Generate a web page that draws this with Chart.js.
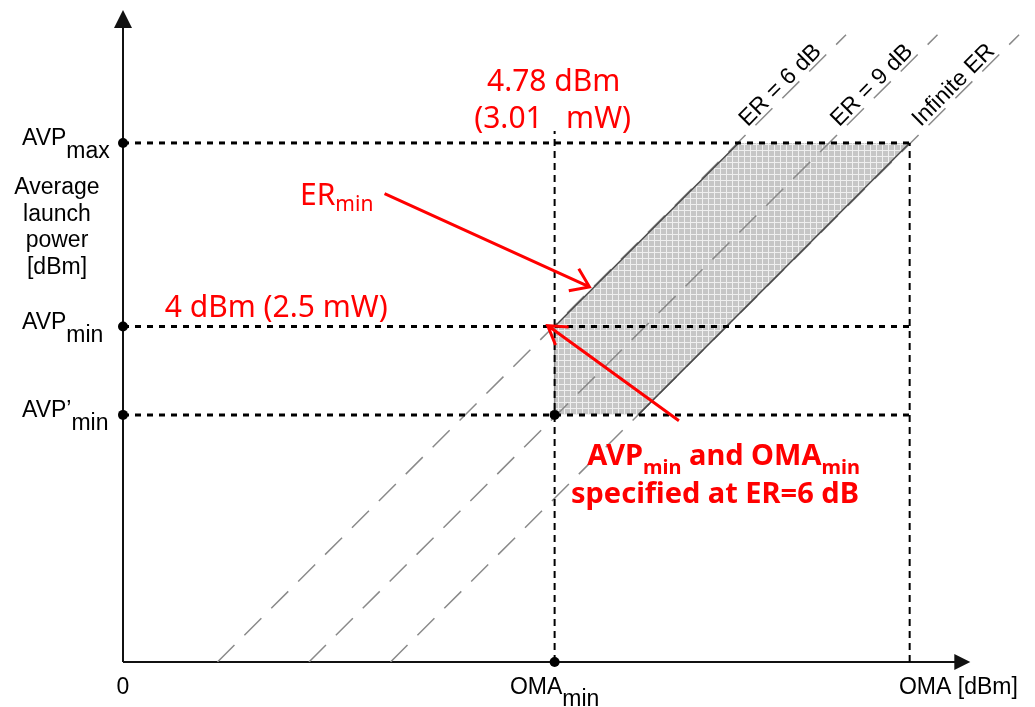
<!DOCTYPE html>
<html>
<head>
<meta charset="utf-8">
<script src="https://cdn.jsdelivr.net/npm/chart.js@4.4.0/dist/chart.umd.min.js"></script>
<style>
  html, body { margin: 0; padding: 0; background: #fff; }
  canvas { display: block; }
</style>
</head>
<body>
<canvas id="myChart" width="1035" height="707"></canvas>
<script>
// levels (arbitrary units, origin at the axes corner)
var omaMin = 43.4, omaMax = 79.1;
var avpMax = 52.3, avpMin = 33.8, avpMinP = 24.9;

// ER lines: x where each one meets the OMA axis, and x at its upper end
var erNames = ['ER = 6 dB', 'ER = 9 dB', 'Infinite ER'];
var erLowX = [9.5, 18.7, 26.9];
var erTopX = [72.7, 81.9, 90.1];
var erTopY = 63.2;

// shaded region corners
var regionX = [43.4, 61.9, 79.1, 51.8, 43.4, 43.4];
var regionY = [33.8, 52.3, 52.3, 24.9, 24.9, 33.8];

// marked points
var dotX = [0, 0, 0, 43.4, 43.4];
var dotY = [52.3, 33.8, 24.9, 24.9, 0];

// tick labels
var xTickValues = [0, 43.4, 84.0];
var xTickLabels = [['0'], ['OMA', 'min'], ['OMA [dBm]']];
var yTickValues = [52.3, 33.8, 24.9];
var yTickLabels = [['AVP', 'max'], ['AVP', 'min'], ['AVP\u2019', 'min']];
var yTitle = ['Average', 'launch', 'power', '[dBm]'];

function pts(xs, ys) {
    return xs.map(function (x, i) { return {x: x, y: ys[i]}; });
}

function makePattern() {
    var c = document.createElement('canvas');
    c.width = 6; c.height = 6;
    var g = c.getContext('2d');
    g.fillStyle = '#c6c6c6';
    g.fillRect(0, 0, 6, 6);
    g.fillStyle = '#efefef';
    g.fillRect(0, 0, 6, 1);
    g.fillRect(0, 0, 1, 6);
    return g.createPattern(c, 'repeat');
}

var datasets = [];

datasets.push({
    data: pts(regionX, regionY),
    showLine: true, fill: 'shape', backgroundColor: makePattern(),
    borderWidth: 0, pointRadius: 0, order: 10
});

erLowX.forEach(function (x0, i) {
    datasets.push({
        data: [{x: x0, y: 0}, {x: erTopX[i], y: erTopY}],
        showLine: true, borderColor: '#8a8a8a', borderWidth: 1.5,
        borderDash: [24, 14], pointRadius: 0, order: 8
    });
});

// solid edges of the region
[[[43.4, 61.9], [33.8, 52.3]], [[51.8, 79.1], [24.9, 52.3]], [[43.4, 43.4], [24.9, 33.8]]].forEach(function (e, i) {
    datasets.push({
        data: pts(e[0], e[1]),
        showLine: true, borderColor: i == 2 ? '#8a8a8a' : '#4a4a4a', borderWidth: 1.5,
        pointRadius: 0, order: 7
    });
});

// dotted guide lines
[avpMax, avpMin, avpMinP].forEach(function (y) {
    datasets.push({
        data: [{x: 0, y: y}, {x: omaMax, y: y}],
        showLine: true, borderColor: '#000', borderWidth: 3,
        borderDash: [6, 6], pointRadius: 0, order: 5, clip: false
    });
});
[[omaMin, 53.5], [omaMax, avpMax]].forEach(function (v) {
    datasets.push({
        data: [{x: v[0], y: 0}, {x: v[0], y: v[1]}],
        showLine: true, borderColor: '#000', borderWidth: 2,
        borderDash: [7, 5], pointRadius: 0, order: 5, clip: false
    });
});

datasets.push({
    data: pts(dotX, dotY),
    pointRadius: 5, pointBackgroundColor: '#000', pointBorderWidth: 0,
    order: 1, clip: false
});

function drawParts(ctx, parts, x, y, align) {
    var w = 0;
    parts.forEach(function (p) { ctx.font = p.font; w += ctx.measureText(p.t).width; });
    var cx = align == 'center' ? x - w / 2 : align == 'right' ? x - w : x;
    ctx.textAlign = 'left';
    ctx.textBaseline = 'alphabetic';
    parts.forEach(function (p) {
        ctx.font = p.font;
        ctx.fillText(p.t, cx, y + (p.dy || 0));
        cx += ctx.measureText(p.t).width;
    });
}

function arrow(ctx, x1, y1, x2, y2, spread) {
    var a = Math.atan2(y1 - y2, x1 - x2), len = 21;
    ctx.beginPath();
    ctx.moveTo(x1, y1); ctx.lineTo(x2, y2);
    ctx.moveTo(x2 + len * Math.cos(a + spread), y2 + len * Math.sin(a + spread));
    ctx.lineTo(x2, y2);
    ctx.lineTo(x2 + len * Math.cos(a - spread), y2 + len * Math.sin(a - spread));
    ctx.stroke();
}

var blackFont = '23px "Liberation Sans", Arial, sans-serif';
var redFont = '30px "Noto Sans", sans-serif';
var subFont = '21px "Noto Sans", sans-serif';
var boldFont = 'bold 29px "Noto Sans", sans-serif';
var boldSub = 'bold 20px "Noto Sans", sans-serif';

var axesPlugin = {
    id: 'axes',
    beforeDatasetsDraw: function (chart) {
        var ctx = chart.ctx, xs = chart.scales.x, ys = chart.scales.y;
        var x0 = xs.getPixelForValue(0), y0 = ys.getPixelForValue(0);
        var xEnd = xs.getPixelForValue(85.2), yEnd = ys.getPixelForValue(65.7);
        ctx.save();
        ctx.strokeStyle = '#111';
        ctx.fillStyle = '#111';
        ctx.lineWidth = 2;
        ctx.beginPath();
        ctx.moveTo(x0, y0); ctx.lineTo(xEnd - 14, y0);
        ctx.moveTo(x0, y0); ctx.lineTo(x0, yEnd + 16);
        ctx.stroke();
        ctx.beginPath();
        ctx.moveTo(xEnd, y0); ctx.lineTo(xEnd - 16, y0 - 8); ctx.lineTo(xEnd - 16, y0 + 8);
        ctx.closePath(); ctx.fill();
        ctx.beginPath();
        ctx.moveTo(x0, yEnd); ctx.lineTo(x0 - 9, yEnd + 18); ctx.lineTo(x0 + 9, yEnd + 18);
        ctx.closePath(); ctx.fill();
        ctx.restore();
    },
    afterDatasetsDraw: function (chart) {
        var ctx = chart.ctx, xs = chart.scales.x, ys = chart.scales.y;
        function px(v) { return xs.getPixelForValue(v); }
        function py(v) { return ys.getPixelForValue(v); }
        ctx.save();
        ctx.fillStyle = '#000';

        // tick labels
        xTickValues.forEach(function (v, i) {
            var l = xTickLabels[i];
            var parts = [{t: l[0], font: blackFont}];
            if (l[1]) parts.push({t: l[1], font: blackFont, dy: 12});
            drawParts(ctx, parts, px(v), py(0) + 32, 'center');
        });
        yTickValues.forEach(function (v, i) {
            var l = yTickLabels[i];
            drawParts(ctx, [{t: l[0], font: blackFont}, {t: l[1], font: blackFont, dy: 13}],
                xs.left - 101, py(v) + 2, 'left');
        });
        yTitle.forEach(function (t, i) {
            drawParts(ctx, [{t: t, font: blackFont}], xs.left - 66, 194 + i * 26.5, 'center');
        });

        // ER line labels
        erNames.forEach(function (t, i) {
            var yv = 53.6;
            var xv = erLowX[i] + (erTopX[i] - erLowX[i]) * yv / erTopY;
            ctx.save();
            ctx.translate(px(xv), py(yv));
            ctx.rotate(-Math.PI / 4);
            drawParts(ctx, [{t: t, font: blackFont}], 0, -4, 'left');
            ctx.restore();
        });

        // red notes
        ctx.fillStyle = '#ff0000';
        drawParts(ctx, [{t: '4.78 dBm', font: redFont}], px(43.3), py(57.5), 'center');
        drawParts(ctx, [{t: '(3.01   mW)', font: redFont}], px(43.2), py(53.8), 'center');
        drawParts(ctx, [{t: 'ER', font: redFont}, {t: 'min', font: subFont, dy: 6}], px(17.8), py(46.0), 'left');
        drawParts(ctx, [{t: '4 dBm (2.5 mW)', font: redFont}], px(4.2), py(34.8), 'left');
        drawParts(ctx, [{t: 'AVP', font: boldFont}, {t: 'min', font: boldSub, dy: 9},
            {t: ' and OMA', font: boldFont}, {t: 'min', font: boldSub, dy: 9}], px(74.1), py(19.8), 'right');
        drawParts(ctx, [{t: 'specified at ER=6 dB', font: boldFont}], px(74.0), py(16.0), 'right');

        ctx.strokeStyle = '#ff0000';
        ctx.lineWidth = 3;
        arrow(ctx, px(26.3), py(47.2), px(46.9), py(37.8), 35 * Math.PI / 180);
        arrow(ctx, px(55.9), py(24.3), px(42.7), py(33.9), 32 * Math.PI / 180);
        ctx.restore();
    }
};

var ctx = document.getElementById('myChart').getContext('2d');
var myChart = new Chart(ctx, {
    type: 'scatter',
    data: { datasets: datasets },
    options: {
        responsive: false,
        animation: false,
        events: [],
        layout: { padding: { left: 123, right: 0, top: 0, bottom: 45 } },
        plugins: { legend: { display: false }, tooltip: { enabled: false } },
        scales: {
            x: { type: 'linear', min: 0, max: 91.2, display: false },
            y: { type: 'linear', min: 0, max: 66.2, display: false }
        }
    },
    plugins: [axesPlugin]
});
</script>
</body>
</html>
